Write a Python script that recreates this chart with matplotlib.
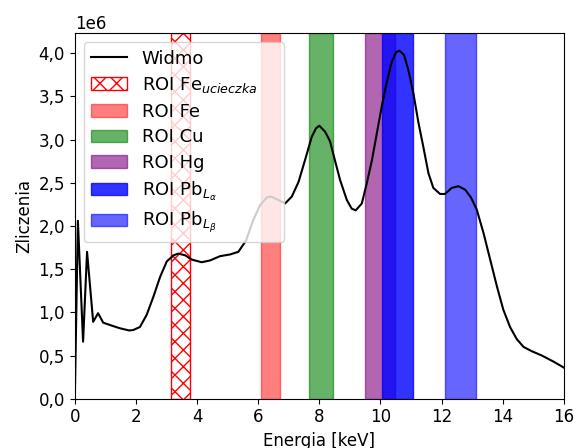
import matplotlib
matplotlib.use("Agg")
import matplotlib.pyplot as plt
from matplotlib.ticker import ScalarFormatter
import numpy as np

# Widmo: energia [keV] i zliczenia (w milionach)
energia = [0.00, 0.10, 0.27, 0.40, 0.60, 0.76, 0.93, 1.26, 1.48, 1.78, 1.91,
           2.13, 2.35, 2.57, 2.79, 3.01, 3.23, 3.39, 3.61, 3.83, 4.15, 4.42,
           4.75, 5.08, 5.35, 5.60, 5.84, 6.06, 6.28, 6.41, 6.61, 6.88, 7.10,
           7.32, 7.53, 7.75, 7.89, 8.00, 8.19, 8.35, 8.51, 8.68, 8.90, 9.06,
           9.19, 9.39, 9.55, 9.72, 9.88, 10.04, 10.21, 10.37, 10.51, 10.62,
           10.77, 10.91, 11.08, 11.24, 11.40, 11.57, 11.73, 11.95, 12.11,
           12.33, 12.55, 12.77, 12.96, 13.15, 13.37, 13.59, 13.81, 14.02,
           14.24, 14.46, 14.68, 14.95, 15.28, 15.66, 16.00]
zliczenia_mln = [0.00, 2.06, 0.66, 1.70, 0.89, 0.99, 0.88, 0.84, 0.815, 0.79,
                 0.795, 0.83, 0.97, 1.18, 1.41, 1.59, 1.66, 1.68, 1.66, 1.61,
                 1.58, 1.60, 1.65, 1.67, 1.70, 1.83, 2.07, 2.24, 2.33, 2.34,
                 2.31, 2.26, 2.34, 2.51, 2.76, 3.03, 3.13, 3.16, 3.09, 2.98,
                 2.76, 2.53, 2.30, 2.20, 2.18, 2.26, 2.49, 2.76, 3.07, 3.38,
                 3.67, 3.90, 4.01, 4.03, 3.98, 3.81, 3.53, 3.20, 2.92, 2.61,
                 2.44, 2.37, 2.37, 2.44, 2.46, 2.42, 2.33, 2.19, 1.92, 1.61,
                 1.30, 1.03, 0.83, 0.69, 0.60, 0.55, 0.50, 0.43, 0.36]

# Obszary zainteresowania (ROI): granice w keV
roi_fe_esc = (3.15, 3.77)
roi_fe = (6.10, 6.70)
roi_cu = (7.65, 8.45)
roi_hg = (9.49, 10.49)
roi_pb_la = (10.05, 11.05)
roi_pb_lb = (12.11, 13.11)


class CommaFormatter(ScalarFormatter):
    def __call__(self, x, pos=None):
        return super().__call__(x, pos).replace(".", ",")


plt.rcParams["font.size"] = 12

fig = plt.figure(figsize=(5.76, 4.48), dpi=100)
ax = fig.add_axes([0.1299, 0.110, 0.849, 0.8157])

ax.plot(energia, np.array(zliczenia_mln) * 1e6, color="black", lw=1.5,
        label="Widmo")
ax.axvspan(*roi_fe_esc, fill=False, hatch="xx", edgecolor="red",
           label=r"ROI Fe$_{ucieczka}$")
ax.axvspan(*roi_fe, color="red", alpha=0.5, label="ROI Fe")
ax.axvspan(*roi_cu, color="green", alpha=0.6, label="ROI Cu")
ax.axvspan(*roi_hg, color="purple", alpha=0.6, label="ROI Hg")
ax.axvspan(*roi_pb_la, color="blue", alpha=0.8, label=r"ROI Pb$_{L_\alpha}$")
ax.axvspan(*roi_pb_lb, color="blue", alpha=0.6, label=r"ROI Pb$_{L_\beta}$")

ax.set_xlim(0, 16)
ax.set_ylim(0, 4.23e6)
ax.yaxis.set_major_formatter(CommaFormatter())
ax.set_xlabel("Energia [keV]")
ax.set_ylabel("Zliczenia")
ax.legend(loc="upper left", bbox_to_anchor=(0, 0, 0.447, 1), mode="expand",
          fontsize=13, labelspacing=0.42)

fig.savefig("out.png", dpi=100)
